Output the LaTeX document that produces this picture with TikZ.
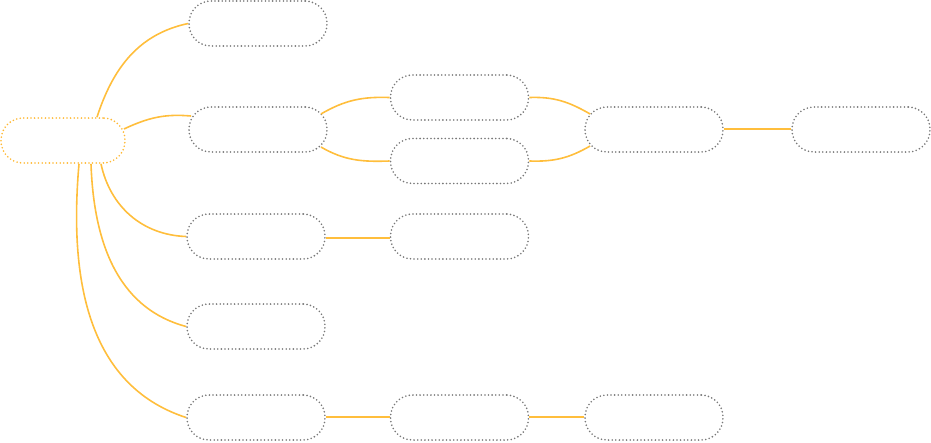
\documentclass[tikz,border=0pt]{standalone}
\usetikzlibrary{calc}
\definecolor{linkc}{RGB}{255,190,60}
\definecolor{rootc}{RGB}{255,184,51}
\definecolor{boxc}{RGB}{120,120,120}
\begin{document}
\begin{tikzpicture}[x=1pt,y=1pt,
  box/.style={draw=boxc, line width=1.8pt, dash pattern=on 0pt off 3.6pt, line cap=round,
    rounded corners=22pt, minimum width=138pt, minimum height=45pt, inner sep=0pt},
  rootbox/.style={box, draw=rootc, minimum width=124pt},
  link/.style={draw=linkc, line width=1.6pt}]
\useasboundingbox (0,0) rectangle (931,-442);
\node[rootbox] (r) at (63,-140.5) {};
\node[box] (a) at (258,-23.5) {};
\node[box] (b) at (258,-129.5) {};
\node[box] (c) at (256,-236.5) {};
\node[box] (d) at (256,-326.5) {};
\node[box] (e) at (256,-417.5) {};
\node[box] (b1) at (459.5,-97.5) {};
\node[box] (b2) at (459.5,-161) {};
\node[box] (b3) at (654,-129.5) {};
\node[box] (b4) at (861,-129.5) {};
\node[box] (c1) at (459.5,-236.5) {};
\node[box] (e1) at (459.5,-417.5) {};
\node[box] (e2) at (654,-417.5) {};
\path[link] ($(r.north)+(34,0)$) to[out=72,in=192] (a.west);
\path[link] ($(r.east)+(-2,11.5)$) to[out=25,in=175] ($(b.west)+(3,13.5)$);
\path[link] ($(r.south)+(38,0)$) to[out=-78,in=178] (c.west);
\path[link] ($(r.south)+(28,0)$) to[out=-88,in=165] (d.west);
\path[link] ($(r.south)+(16,0)$) to[out=-95,in=162] (e.west);
\path[link] ($(b.east)+(-7,15.5)$) to[out=30,in=178] (b1.west);
\path[link] ($(b.east)+(-7,-17.5)$) to[out=-30,in=182] (b2.west);
\path[link] (b1.east) to[out=2,in=150] ($(b3.west)+(6,15.5)$);
\path[link] (b2.east) to[out=-2,in=210] ($(b3.west)+(6,-16.5)$);
\path[link] ($(b3.east)+(0,0.5)$) -- ($(b4.west)+(0,0.5)$);
\path[link] ($(c.east)+(0,-1.5)$) -- ($(c1.west)+(0,-1.5)$);
\path[link] ($(e.east)+(0,0.5)$) -- ($(e1.west)+(0,0.5)$);
\path[link] ($(e1.east)+(0,0.5)$) -- ($(e2.west)+(0,0.5)$);
\end{tikzpicture}
\end{document}
